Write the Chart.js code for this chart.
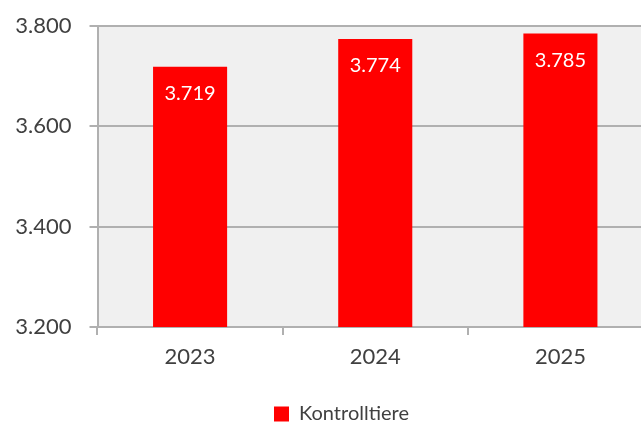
<!DOCTYPE html>
<html>
<head>
<meta charset="utf-8">
<script src="https://cdn.jsdelivr.net/npm/chart.js@4"></script>
<style>
  html, body { margin: 0; padding: 0; background: #fff; overflow: hidden; }
  #wrap { width: 653px; height: 422px; }
</style>
</head>
<body>
<div id="wrap"><canvas id="chart"></canvas></div>
<script>
const years = ['2023', '2024', '2025'];
const kontrolltiere = [3719, 3774, 3785];
const yTicks = [3200, 3400, 3600, 3800];

const fmt = v => String(v).replace(/\B(?=(\d{3})+(?!\d))/g, '.');

// gray plot background
const plotBg = {
  id: 'plotBg',
  beforeDraw(chart) {
    const { ctx, chartArea: a } = chart;
    ctx.save();
    ctx.fillStyle = '#f0f0f0';
    ctx.fillRect(a.left, a.top, a.right - a.left, a.bottom - a.top);
    ctx.restore();
  }
};

// white value labels inside bars
const barLabels = {
  id: 'barLabels',
  afterDatasetsDraw(chart) {
    const { ctx } = chart;
    const meta = chart.getDatasetMeta(0);
    ctx.save();
    ctx.fillStyle = '#ffffff';
    ctx.font = '20px Lato';
    ctx.textAlign = 'center';
    ctx.textBaseline = 'middle';
    meta.data.forEach((bar, i) => {
      ctx.fillText(fmt(kontrolltiere[i]), bar.x, bar.y + 27);
    });
    ctx.restore();
  }
};

// nudge legend right/down like the original
const legendShift = {
  id: 'legendShift',
  afterLayout(chart) {
    const lg = chart.legend;
    lg.left += 15;
    lg.right += 15;
    lg.top += 12;
    lg.bottom += 12;
  }
};

new Chart(document.getElementById('chart'), {
  type: 'bar',
  data: {
    labels: years,
    datasets: [{
      label: 'Kontrolltiere',
      data: kontrolltiere,
      backgroundColor: '#ff0000',
      barPercentage: 0.8,
      categoryPercentage: 0.5,
    }]
  },
  options: {
    responsive: true,
    maintainAspectRatio: false,
    animation: false,
    layout: { padding: { top: 26, left: 0, right: 0, bottom: 0 } },
    scales: {
      x: {
        afterFit(scale) { scale.height = 64; },
        grid: { display: true, drawOnChartArea: false, drawTicks: true, tickLength: 8, color: '#b0b0b0', lineWidth: 2, offset: true },
        border: { display: true, color: '#b0b0b0', width: 2 },
        ticks: { color: '#404040', font: { family: 'Lato', size: 22 }, padding: 9 },
      },
      y: {
        min: 3200,
        max: 3800,
        afterBuildTicks(scale) { scale.ticks = yTicks.map(v => ({ value: v })); },
        afterFit(scale) {
          scale.width = 97.5;
          scale.paddingTop = 0;
          scale.paddingBottom = 0;
        },
        grid: { color: '#b0b0b0', lineWidth: 2, tickLength: 8 },
        border: { display: true, color: '#b0b0b0', width: 2 },
        ticks: { color: '#404040', font: { family: 'Lato', size: 22 }, padding: 18, callback: v => fmt(v) },
      }
    },
    plugins: {
      legend: {
        position: 'bottom',
        labels: { color: '#404040', font: { family: 'Lato', size: 20 }, boxWidth: 15, boxHeight: 15, padding: 1 }
      },
      tooltip: { enabled: false }
    }
  },
  plugins: [plotBg, barLabels, legendShift]
});
</script>
</body>
</html>
